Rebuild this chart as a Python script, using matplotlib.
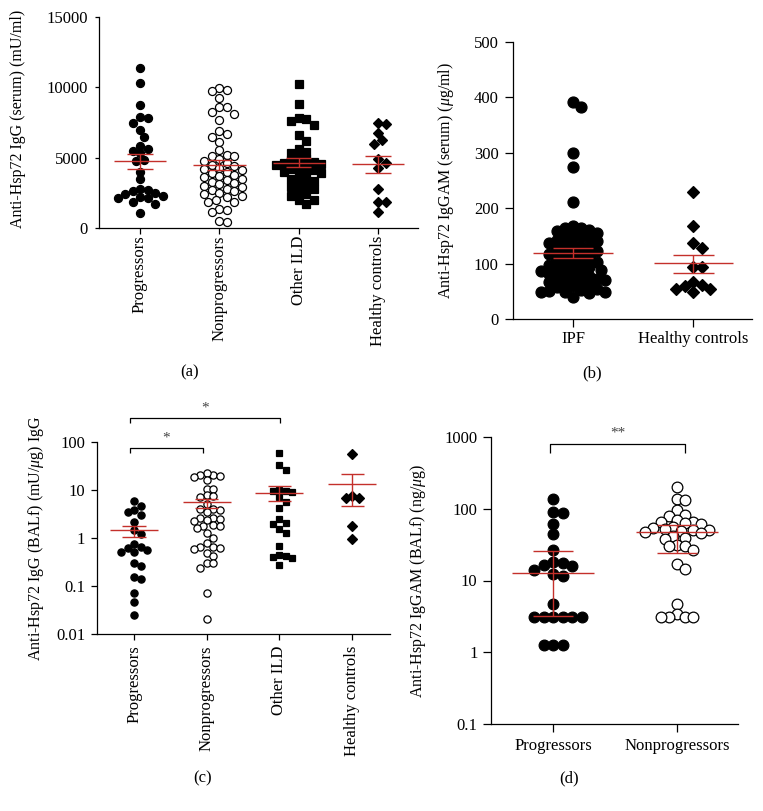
import numpy as np
import matplotlib
matplotlib.use('Agg')
import matplotlib.pyplot as plt

plt.rcParams['font.family'] = ['Liberation Serif', 'DejaVu Serif']
plt.rcParams['mathtext.fontset'] = 'custom'
plt.rcParams['mathtext.rm'] = 'Liberation Serif'
plt.rcParams['mathtext.it'] = 'Liberation Serif:italic'

W, H, DPI = 763, 811, 100
RED = '#c4302b'
TICKFS = 12
LABFS = 11.5

# ---------------- data ----------------
# Panel (a): serum IgG (mU/ml)
cats_a = ['Progressors', 'Nonprogressors', 'Other ILD', 'Healthy controls']
prog_a = [11400, 10300, 8750, 7900, 7850, 7450, 7000, 6500, 5850, 5600, 5450, 5300,
          4800, 4750, 4000, 3450, 2800, 2700, 2600, 2500, 2400, 2300, 2200, 2150,
          2150, 1850, 1700, 1100]
nonprog_a = [9950, 9830, 9720, 9240, 8600, 8580, 8250, 8130, 7650, 6920, 6660, 6490,
             6090, 5520, 5190, 5150, 5120, 4900, 4750, 4600, 4500, 4400, 4300, 4200,
             4100, 4000, 3900, 3800, 3700, 3650, 3500, 3400, 3300, 3200, 3100, 3000,
             2900, 2800, 2700, 2600, 2500, 2400, 2300, 2200, 2000, 1820, 1820, 1350,
             1300, 1140, 470, 400]
ild_a = [10240, 8820, 7800, 7730, 7630, 7300, 6590, 6210, 5590, 5430, 5360, 4950,
         4880, 4800, 4700, 4620, 4540, 4460, 4380, 4300, 4200, 4100, 4000, 3900,
         3800, 3650, 3500, 3350, 3200, 3050, 2900, 2750, 2600, 2450, 2300, 2000,
         1990, 1710]
hc_a = [7440, 7400, 6730, 6260, 5970, 4900, 4640, 4260, 2770, 1870, 1830, 1140]
mean_a = [4740, 4456, 4645, 4550]
lo_a = [4219, 4100, 4313, 3934]
hi_a = [5285, 4811, 4977, 5143]

# Panel (b): serum IgGAM (ug/ml)
cats_b = ['IPF', 'Healthy controls']
ipf_b = [392, 382, 299, 275, 212, 168, 165, 164, 161, 158, 155, 152, 150, 148, 146,
         143, 140, 138, 135, 132, 130, 128, 125, 122, 120, 118, 115, 112, 110, 108,
         105, 102, 100, 98, 96, 94, 92, 90, 88, 86, 84, 82, 80, 78, 76, 75, 73, 70,
         68, 66, 64, 62, 60, 58, 55, 52, 50, 49, 48, 48, 47, 40]
hc_b = [230, 168, 138, 129, 94, 93, 67, 61, 60, 54, 54, 49]
mean_b = [119.7, 100.5]
lo_b = [111, 83.6]
hi_b = [129, 115.5]

# Panel (c): BALf IgG (mU/ug)
cats_c = ['Progressors', 'Nonprogressors', 'Other ILD', 'Healthy controls']
prog_c = [5.96, 4.6, 3.81, 3.52, 3.0, 2.11, 1.45, 1.2, 0.74, 0.66, 0.62, 0.56, 0.52,
          0.5, 0.30, 0.26, 0.157, 0.137, 0.07, 0.046, 0.025]
nonprog_c = [21, 22.8, 20.3, 19, 19.5, 16, 10.7, 10.5, 7.8, 7.5, 7.2, 5.1, 4.06, 4.06,
             3.8, 3.4, 2.6, 2.6, 2.5, 2.4, 2.3, 1.9, 1.8, 1.8, 1.6, 1.3, 1.0, 0.78,
             0.65, 0.65, 0.62, 0.6, 0.48, 0.42, 0.3, 0.3, 0.24, 0.07, 0.021]
ild_c = [60, 33.7, 26.7, 10, 9.5, 9.5, 9, 7.3, 5.7, 4.27, 2.44, 2.02, 1.92, 1.54, 1.29,
         0.68, 0.45, 0.42, 0.40, 0.38, 0.27]
hc_c = [57, 7.45, 6.7, 6.7, 1.77, 0.95]
mean_c = [1.44, 5.5, 8.7, 13.4]
lo_c = [1.07, 4.26, 5.8, 4.69]
hi_c = [1.80, 6.45, 11.9, 22.0]

# Panel (d): BALf IgGAM (ng/ug), median with IQR
cats_d = ['Progressors', 'Nonprogressors']
prog_d = [138, 89, 86, 62, 44.8, 26.8, 18, 17.7, 16.2, 16.0, 14.1, 12.4, 11.7, 4.77,
          3.11, 3.11, 3.11, 3.11, 3.11, 3.11, 1.27, 1.27, 1.27]
nonprog_d = [200, 137, 131, 97, 82, 80, 69, 66, 65, 63, 62, 55, 54, 52, 51, 51, 49, 48,
             46, 42, 39, 37.6, 31, 30, 30, 27, 17.2, 14.4, 4.7, 3.4, 3.1, 3.1, 3.1, 3.1]
med_d = [12.7, 47.2]
lo_d = [3.15, 24.3]
hi_d = [25.9, 59.8]

# ---------------- helpers ----------------
fig = plt.figure(figsize=(W / DPI, H / DPI), dpi=DPI)


def px_axes(l, t, r, b):
    return fig.add_axes([l / W, 1 - b / H, (r - l) / W, (b - t) / H])


def style(ax, ylen, ypad, xlen, xpad):
    for s in ('top', 'right'):
        ax.spines[s].set_visible(False)
    for s in ('left', 'bottom'):
        ax.spines[s].set_linewidth(0.9)
    ax.tick_params(axis='y', length=ylen, width=0.9, pad=ypad, labelsize=TICKFS)
    ax.tick_params(axis='x', length=xlen, width=0.9, pad=xpad, labelsize=TICKFS)
    ax.minorticks_off()


def swarm_x(ax, xc, vals, d, step=None):
    if step is None:
        step = d / 2.0
    vals = np.asarray(vals, float)
    pts = ax.transData.transform(np.column_stack([np.full(len(vals), xc), vals]))
    ys = pts[:, 1]
    x0 = pts[0, 0]
    order = np.argsort(-ys, kind='stable')
    placed = []
    xs = np.zeros(len(vals))
    cands = [0.0]
    for j in range(1, 80):
        cands += [j * step, -j * step]
    for i in order:
        y = ys[i]
        for c in cands:
            if all((c - px) ** 2 + (y - py) ** 2 >= d * d for px, py in placed):
                break
        placed.append((c, y))
        xs[i] = x0 + c
    back = ax.transData.inverted().transform(np.column_stack([xs, ys]))
    return back[:, 0]


def dots(ax, xc, vals, d, marker, ms, filled=True, mew=0.9):
    xs = swarm_x(ax, xc, vals, d)
    ax.plot(xs, vals, ls='none', marker=marker, ms=ms,
            mfc='black' if filled else 'white', mec='black', mew=mew,
            zorder=3, clip_on=False)


def summary(ax, x, c, lo, hi, wl=0.33, wc=0.16):
    kw = dict(color=RED, lw=1.0, zorder=6, solid_capstyle='butt')
    ax.plot([x - wl, x + wl], [c, c], **kw)
    ax.plot([x, x], [lo, hi], **kw)
    ax.plot([x - wc, x + wc], [hi, hi], **kw)
    ax.plot([x - wc, x + wc], [lo, lo], **kw)


def ylabel(x, y, s):
    fig.text(x / W, 1 - y / H, s, rotation=90, ha='center', va='center', fontsize=LABFS)


def plabel(x, y, s):
    fig.text(x / W, 1 - y / H, s, ha='center', va='center', fontsize=12)


# ---------------- panel (a) ----------------
axa = px_axes(99, 17, 418, 228)
axa.set_xlim(-0.517, 3.504)
axa.set_ylim(0, 15000)
axa.set_yticks([0, 5000, 10000, 15000])
axa.set_xticks(range(4))
axa.set_xticklabels(cats_a, rotation=90, ha='center', va='top')
style(axa, 3.0, 5.0, 4.3, 1.0)
dots(axa, 0, prog_a, 7.5, 'o', 5.8)
dots(axa, 1, nonprog_a, 7.5, 'o', 5.8, filled=False)
dots(axa, 2, ild_a, 7.5, 's', 5.6)
dots(axa, 3, hc_a, 7.5, 'D', 4.7)
for i in range(4):
    summary(axa, i, mean_a[i], lo_a[i], hi_a[i])
ylabel(18, 119, 'Anti-Hsp72 IgG (serum) (mU/ml)')
plabel(190, 372, '(a)')

# ---------------- panel (b) ----------------
axb = px_axes(513, 42, 752, 319)
axb.set_xlim(-0.5, 1.49)
axb.set_ylim(0, 500)
axb.set_yticks([0, 100, 200, 300, 400, 500])
axb.set_xticks(range(2))
axb.set_xticklabels(cats_b)
style(axb, 5.8, 4.5, 5.8, 3.0)
dots(axb, 0, ipf_b, 8.0, 'o', 7.9)
dots(axb, 1, hc_b, 8.5, 'D', 6.6)
for i in range(2):
    summary(axb, i, mean_b[i], lo_b[i], hi_b[i], wl=0.33, wc=0.17)
ylabel(446, 180, r'Anti-Hsp72 IgGAM (serum) ($\mu$g/ml)')
plabel(592, 373, '(b)')

# ---------------- panel (c) ----------------
axc = px_axes(97, 442, 390, 634)
axc.set_yscale('log')
axc.set_xlim(-0.509, 3.52)
axc.set_ylim(0.01, 100)
axc.set_yticks([0.01, 0.1, 1, 10, 100])
axc.set_yticklabels(['0.01', '0.1', '1', '10', '100'])
axc.set_xticks(range(4))
axc.set_xticklabels(cats_c, rotation=90, ha='center', va='top')
style(axc, 4.0, 4.5, 4.3, 4.0)
dots(axc, 0, prog_c, 6.5, 'o', 5.2)
dots(axc, 1, nonprog_c, 6.5, 'o', 5.2, filled=False)
dots(axc, 2, ild_c, 6.5, 's', 5.0)
dots(axc, 3, hc_c, 6.5, 'D', 4.6)
for i in range(4):
    summary(axc, i, mean_c[i], lo_c[i], hi_c[i])
# significance brackets
bk = dict(color='black', lw=0.9, clip_on=False, solid_capstyle='butt')
for (x1, x2, yb, ys) in [(-0.055, 2.01, 316, 500), (-0.055, 0.95, 75, 120)]:
    tick = yb / 10 ** 0.11
    axc.plot([x1, x1, x2, x2], [tick, yb, yb, tick], **bk)
    axc.text((x1 + x2) / 2, ys, '*', ha='center', va='center', fontsize=11,
             color='#444444', clip_on=False)
ylabel(36, 538, r'Anti-Hsp72 IgG (BALf) (mU/$\mu$g) IgG')
plabel(203, 778, '(c)')

# ---------------- panel (d) ----------------
axd = px_axes(491, 437, 738, 724)
axd.set_yscale('log')
axd.set_xlim(-0.5, 1.49)
axd.set_ylim(0.1, 1000)
axd.set_yticks([0.1, 1, 10, 100, 1000])
axd.set_yticklabels(['0.1', '1', '10', '100', '1000'])
axd.set_xticks(range(2))
axd.set_xticklabels(cats_d)
style(axd, 5.8, 4.0, 5.8, 4.0)
dots(axd, 0, prog_d, 9.5, 'o', 7.7)
dots(axd, 1, nonprog_d, 8.0, 'o', 7.7, filled=False)
for i in range(2):
    summary(axd, i, med_d[i], lo_d[i], hi_d[i])
yb = 798
axd.plot([-0.024, -0.024, 1.065, 1.065], [yb / 10 ** 0.13, yb, yb, yb / 10 ** 0.13], **bk)
axd.text(0.52, 1120, '**', ha='center', va='center', fontsize=11, color='#444444',
         clip_on=False)
ylabel(418, 581, r'Anti-Hsp72 IgGAM (BALf) (ng/$\mu$g)')
plabel(569, 778, '(d)')

fig.savefig('out.png', dpi=DPI)
